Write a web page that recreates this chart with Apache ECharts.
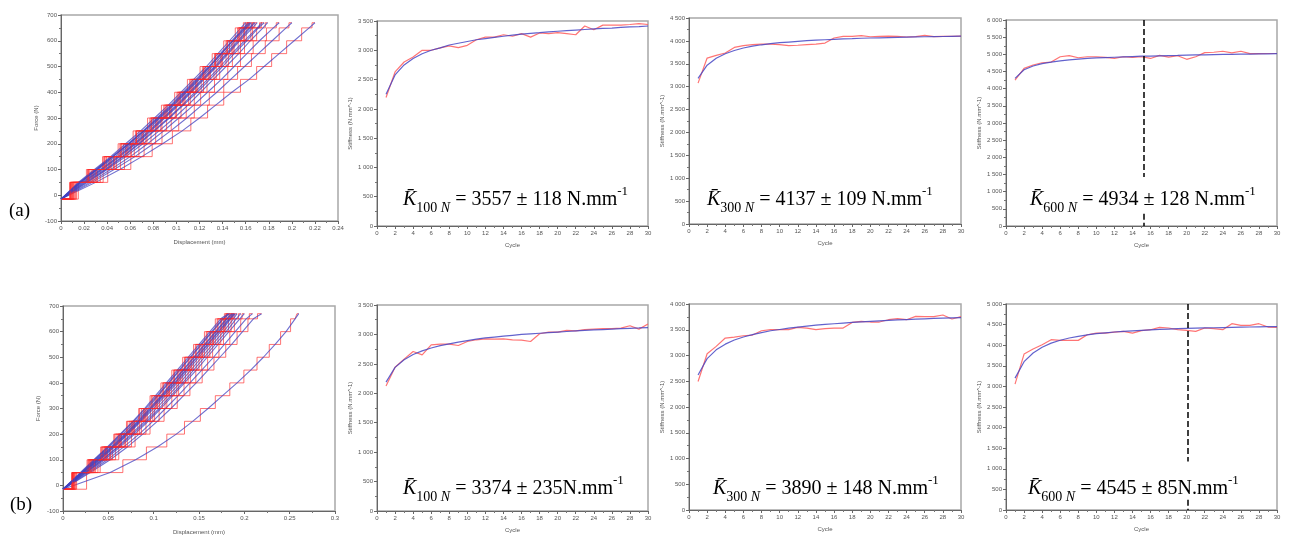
<!DOCTYPE html>
<html>
<head>
<meta charset="utf-8">
<script src="https://cdn.jsdelivr.net/npm/echarts@6/dist/echarts.min.js"></script>
<style>html,body{margin:0;padding:0;background:#fff}#c{width:1290px;height:536px}</style>
</head>
<body>
<div id="c"></div>
<script>
// ---------- DATA ----------
const CYCLE = [1,2,3,4,5,6,7,8,9,10,11,12,13,14,15,16,17,18,19,20,21,22,23,24,25,26,27,28,29,30];

// Force levels (N) at which displacement of each loading cycle was read
const FORCE_LEVELS = [-15,50,100,150,200,250,300,350,400,450,500,550,600,650,670];

// (a) force-displacement cycles: displacement (mm) at FORCE_LEVELS
const A_C1  = [0,0.030,0.051,0.070,0.088,0.105,0.120,0.134,0.148,0.163,0.176,0.189,0.202,0.215,0.220];
const A_C2  = [0,0.027,0.046,0.064,0.080,0.095,0.109,0.122,0.135,0.147,0.159,0.171,0.183,0.195,0.200];
const A_C3  = [0,0.025,0.043,0.060,0.075,0.089,0.102,0.115,0.127,0.139,0.150,0.161,0.172,0.184,0.189];
const A_C4  = [0,0.023,0.040,0.056,0.071,0.085,0.098,0.110,0.121,0.132,0.143,0.154,0.164,0.175,0.179];
const A_C5  = [0,0.021,0.038,0.053,0.067,0.080,0.093,0.105,0.116,0.127,0.138,0.148,0.159,0.170,0.174];
const A_C6  = [0,0.020,0.036,0.051,0.065,0.078,0.090,0.102,0.113,0.124,0.135,0.145,0.155,0.166,0.170];
const A_C7  = [0,0.018,0.034,0.049,0.063,0.076,0.088,0.100,0.111,0.122,0.133,0.143,0.153,0.163,0.167];
const A_C8  = [0,0.017,0.032,0.047,0.061,0.074,0.086,0.098,0.109,0.120,0.131,0.141,0.151,0.161,0.165];
const A_C9  = [0,0.016,0.030,0.044,0.058,0.071,0.083,0.095,0.106,0.117,0.128,0.138,0.148,0.158,0.162];
const A_C10 = [0,0.015,0.029,0.043,0.056,0.069,0.081,0.093,0.104,0.115,0.126,0.136,0.146,0.156,0.160];
const A_C11 = [0,0.019,0.035,0.050,0.064,0.077,0.089,0.101,0.112,0.123,0.134,0.144,0.154,0.164,0.168];
const A_C12 = [0,0.017,0.031,0.045,0.059,0.072,0.085,0.097,0.108,0.119,0.129,0.139,0.149,0.159,0.163];
const A_C13 = [0,0.022,0.039,0.054,0.068,0.081,0.094,0.106,0.118,0.129,0.140,0.150,0.161,0.171,0.176];
const A_C14 = [0,0.016,0.031,0.045,0.059,0.072,0.084,0.096,0.107,0.118,0.129,0.139,0.149,0.160,0.164];

// (b) force-displacement cycles
const B_C1  = [0,0.052,0.080,0.104,0.125,0.143,0.160,0.176,0.192,0.207,0.221,0.234,0.246,0.256,0.260];
const B_C2  = [0,0.030,0.052,0.071,0.088,0.104,0.119,0.133,0.147,0.160,0.173,0.186,0.198,0.210,0.219];
const B_C3  = [0,0.028,0.049,0.067,0.084,0.099,0.113,0.127,0.140,0.153,0.166,0.178,0.190,0.202,0.209];
const B_C4  = [0,0.026,0.046,0.063,0.079,0.094,0.108,0.121,0.134,0.147,0.159,0.171,0.183,0.195,0.200];
const B_C5  = [0,0.024,0.043,0.060,0.075,0.090,0.103,0.116,0.129,0.141,0.153,0.165,0.177,0.188,0.192];
const B_C6  = [0,0.023,0.041,0.057,0.072,0.086,0.100,0.113,0.126,0.138,0.150,0.162,0.174,0.185,0.190];
const B_C7  = [0,0.022,0.039,0.055,0.070,0.084,0.097,0.110,0.123,0.135,0.147,0.159,0.171,0.183,0.188];
const B_C8  = [0,0.021,0.037,0.053,0.068,0.082,0.095,0.108,0.120,0.132,0.144,0.156,0.168,0.180,0.186];
const B_C9  = [0,0.020,0.036,0.051,0.066,0.080,0.093,0.105,0.117,0.129,0.141,0.153,0.165,0.177,0.184];
const B_C10 = [0,0.019,0.034,0.049,0.063,0.077,0.090,0.102,0.114,0.126,0.138,0.150,0.162,0.174,0.182];
const B_C11 = [0,0.022,0.040,0.056,0.071,0.085,0.098,0.111,0.124,0.136,0.148,0.160,0.172,0.184,0.189];
const B_C12 = [0,0.020,0.035,0.050,0.064,0.078,0.091,0.104,0.116,0.128,0.140,0.152,0.164,0.176,0.183];
const B_C13 = [0,0.025,0.044,0.061,0.077,0.092,0.106,0.119,0.132,0.144,0.156,0.168,0.180,0.191,0.196];
const B_C14 = [0,0.021,0.038,0.054,0.069,0.083,0.096,0.109,0.121,0.133,0.145,0.157,0.169,0.181,0.187];

// Stiffness (N/mm) per cycle: measured (red) and fitted (blue)
const A100_MEAS = [2193,2630,2800,2885,3000,3000,3040,3075,3045,3085,3180,3225,3225,3265,3240,3285,3225,3295,3285,3300,3285,3265,3415,3350,3430,3430,3430,3440,3455,3440];
const A100_FIT  = [2250,2580,2750,2860,2940,3000,3040,3090,3120,3150,3180,3200,3220,3240,3260,3275,3290,3300,3315,3325,3335,3345,3355,3365,3375,3380,3390,3400,3405,3415];
const A300_MEAS = [3078,3625,3683,3735,3858,3895,3917,3931,3931,3917,3895,3905,3920,3930,3953,4063,4099,4100,4114,4090,4100,4105,4100,4085,4095,4120,4095,4100,4100,4105];
const A300_FIT  = [3180,3470,3620,3720,3790,3845,3885,3915,3940,3960,3975,3990,4005,4015,4025,4035,4045,4050,4058,4063,4068,4073,4078,4082,4086,4090,4093,4096,4099,4102];
const A600_MEAS = [4250,4590,4690,4755,4775,4930,4960,4900,4930,4930,4910,4880,4930,4910,4930,4880,4970,4920,4960,4855,4930,5050,5060,5090,5040,5090,5020,5020,5025,5025];
const A600_FIT  = [4300,4550,4660,4730,4775,4810,4840,4860,4880,4895,4905,4915,4925,4935,4945,4950,4958,4965,4970,4977,4982,4987,4992,4996,5000,5004,5008,5012,5015,5018];
const B100_MEAS = [2125,2443,2580,2710,2653,2824,2835,2835,2812,2880,2909,2926,2920,2926,2909,2903,2880,3011,3040,3040,3068,3062,3080,3090,3097,3097,3108,3148,3090,3176];
const B100_FIT  = [2190,2440,2570,2660,2720,2770,2810,2840,2870,2895,2920,2940,2955,2970,2985,3000,3010,3020,3030,3040,3050,3060,3068,3076,3083,3090,3097,3104,3110,3117];
const B300_MEAS = [2496,3034,3177,3339,3358,3384,3397,3481,3501,3501,3501,3546,3533,3501,3520,3533,3533,3643,3663,3650,3650,3695,3715,3695,3760,3754,3754,3786,3708,3754];
const B300_FIT  = [2620,2940,3110,3220,3300,3360,3405,3445,3480,3505,3530,3550,3570,3588,3603,3617,3630,3642,3653,3663,3672,3681,3690,3698,3705,3712,3719,3725,3731,3737];
const B600_MEAS = [3055,3784,3906,4011,4133,4117,4117,4117,4254,4295,4295,4319,4335,4295,4352,4376,4433,4417,4376,4360,4335,4417,4400,4376,4522,4481,4481,4522,4441,4433];
const B600_FIT  = [3200,3600,3810,3950,4050,4120,4175,4215,4250,4280,4300,4320,4337,4350,4362,4373,4383,4392,4400,4407,4413,4419,4424,4429,4434,4438,4442,4446,4449,4452];

// Y-axis maxima of the stiffness panels
const STIFF_MAX = [3500, 4500, 6000, 3500, 4000, 5000];

// Mean stiffness annotations
const K_LOAD = ['100', '300', '600', '100', '300', '600'];
const K_TEXT = ['3557 \u00b1 118 N.mm', '4137 \u00b1 109 N.mm', '4934 \u00b1 128 N.mm',
                '3374 \u00b1 235N.mm', '3890 \u00b1 148 N.mm', '4545 \u00b1 85N.mm'];

// Dashed marker cycles (panels a-600 N and b-600 N), with segment ends (N/mm)
const MARK_A600 = 15.25;
const MARK_B600 = 20.1;
const MARK_A600_SEG = [[6000, 1430], [360, 0]];
const MARK_B600_SEG = [[5000, 1175], [250, 0]];

// ---------- CHART ----------
const chart = echarts.init(document.getElementById('c'), null, {renderer: 'canvas'});

const grids = [
  {left: 61,   top: 15,  width: 277, height: 206},
  {left: 377,  top: 21,  width: 271, height: 205},
  {left: 689,  top: 18,  width: 272, height: 206},
  {left: 1006, top: 20,  width: 271, height: 206},
  {left: 63,   top: 306, width: 272, height: 205},
  {left: 377,  top: 305, width: 271, height: 206},
  {left: 689,  top: 304, width: 272, height: 206},
  {left: 1006, top: 304, width: 271, height: 206}
].map(g => Object.assign({show: true, borderColor: '#a8a8a8', borderWidth: 1.5, backgroundColor: '#fff'}, g));

const AX_FONT = 'Liberation Sans';
function baseAxis(extra) {
  return Object.assign({
    type: 'value',
    axisLine: {show: true, onZero: false, lineStyle: {color: '#666', width: 1}},
    axisTick: {show: true, inside: false, length: 3, lineStyle: {color: '#666'}},
    minorTick: {show: true, splitNumber: 2, length: 2, lineStyle: {color: '#777'}},
    splitLine: {show: false},
    axisLabel: {fontSize: 6, color: '#555', margin: 4, fontFamily: AX_FONT, hideOverlap: false},
    nameLocation: 'middle',
    nameTextStyle: {fontSize: 6, color: '#555', fontFamily: AX_FONT}
  }, extra);
}
const thousands = v => v >= 1000 ? Math.floor(v / 1000) + ' ' + String(v % 1000).padStart(3, '0') : String(v);
const dec = v => String(+v.toFixed(3));

const xAxes = [], yAxes = [];
// panel order: 0 A-FD, 1 A100, 2 A300, 3 A600, 4 B-FD, 5 B100, 6 B300, 7 B600
const stiffPanels = [1, 2, 3, 5, 6, 7];
for (let i = 0; i < 8; i++) {
  if (i === 0 || i === 4) {
    const isA = i === 0;
    xAxes.push(baseAxis({gridIndex: i, min: 0, max: isA ? 0.24 : 0.3, interval: isA ? 0.02 : 0.05,
      name: 'Displacement (mm)', nameGap: 18, axisLabel: Object.assign({}, baseAxis().axisLabel, {formatter: dec})}));
    yAxes.push(baseAxis({gridIndex: i, min: -100, max: 700, interval: 100, name: 'Force (N)', nameGap: 22}));
  } else {
    const k = stiffPanels.indexOf(i);
    xAxes.push(baseAxis({gridIndex: i, min: 0, max: 30, interval: 2, name: 'Cycle', nameGap: 16}));
    yAxes.push(baseAxis({gridIndex: i, min: 0, max: STIFF_MAX[k], interval: 500,
      name: 'Stiffness (N.mm^-1)', nameGap: 24,
      axisLabel: Object.assign({}, baseAxis().axisLabel, {formatter: thousands})}));
  }
}

const series = [];
const RED = '#ff2a2a', BLUE = '#4040c0';
function addFD(idx, cycles) {
  cycles.forEach(d => {
    const pts = d.map((x, j) => [x, FORCE_LEVELS[j]]);
    series.push({type: 'line', xAxisIndex: idx, yAxisIndex: idx, data: pts, step: 'middle',
      showSymbol: false, silent: true, lineStyle: {color: RED, width: 1, opacity: 0.65}});
    series.push({type: 'line', xAxisIndex: idx, yAxisIndex: idx, data: pts,
      showSymbol: false, silent: true, lineStyle: {color: BLUE, width: 1.1, opacity: 0.75}});
  });
}
addFD(0, [A_C1, A_C2, A_C3, A_C4, A_C5, A_C6, A_C7, A_C8, A_C9, A_C10, A_C11, A_C12, A_C13, A_C14]);
addFD(4, [B_C1, B_C2, B_C3, B_C4, B_C5, B_C6, B_C7, B_C8, B_C9, B_C10, B_C11, B_C12, B_C13, B_C14]);

const stiffData = [[A100_MEAS, A100_FIT], [A300_MEAS, A300_FIT], [A600_MEAS, A600_FIT],
                   [B100_MEAS, B100_FIT], [B300_MEAS, B300_FIT], [B600_MEAS, B600_FIT]];
stiffPanels.forEach((idx, k) => {
  const [meas, fit] = stiffData[k];
  series.push({type: 'line', xAxisIndex: idx, yAxisIndex: idx, data: CYCLE.map((c, j) => [c, meas[j]]),
    showSymbol: false, silent: true, lineStyle: {color: '#ff5c5c', width: 1.2, opacity: 0.85}});
  const s = {type: 'line', xAxisIndex: idx, yAxisIndex: idx, data: CYCLE.map((c, j) => [c, fit[j]]),
    showSymbol: false, silent: true, lineStyle: {color: '#4747c4', width: 1.2, opacity: 0.85}};
  let mark = null, segs = null;
  if (idx === 3) { mark = MARK_A600; segs = MARK_A600_SEG; }
  if (idx === 7) { mark = MARK_B600; segs = MARK_B600_SEG; }
  if (mark !== null) {
    s.markLine = {silent: true, symbol: 'none', label: {show: false},
      lineStyle: {color: '#000', type: [6, 3], width: 1.5, opacity: 1},
      data: segs.map(sg => [{coord: [mark, sg[0]]}, {coord: [mark, sg[1]]}])};
  }
  series.push(s);
});

const SERIF = 'Liberation Serif';
const rich = {
  k:  {fontFamily: SERIF, fontStyle: 'italic', fontWeight: 'normal', fontSize: 20, color: '#000', lineHeight: 30, verticalAlign: 'middle'},
  s:  {fontFamily: SERIF, fontWeight: 'normal', fontSize: 14, color: '#000', lineHeight: 14, verticalAlign: 'bottom'},
  si: {fontFamily: SERIF, fontStyle: 'italic', fontWeight: 'normal', fontSize: 14, color: '#000', lineHeight: 14, verticalAlign: 'bottom'},
  m:  {fontFamily: SERIF, fontWeight: 'normal', fontSize: 20, color: '#000', lineHeight: 30, verticalAlign: 'middle'},
  p:  {fontFamily: SERIF, fontWeight: 'normal', fontSize: 13, color: '#000', lineHeight: 13, verticalAlign: 'top'}
};
const titlePos = [[403, 185], [707, 185], [1030, 185], [403, 474], [713, 474], [1028, 474]];
const titles = K_TEXT.map((t, k) => ({
  left: titlePos[k][0], top: titlePos[k][1], padding: 0,
  text: '{k|K\u0304}{s|' + K_LOAD[k] + ' }{si|N}{m| = ' + t + '}{p|-1}',
  textStyle: {fontWeight: 'normal', rich: rich}
}));

chart.setOption({
  animation: false,
  backgroundColor: '#fff',
  title: titles,
  grid: grids,
  xAxis: xAxes,
  yAxis: yAxes,
  series: series,
  graphic: [
    {type: 'text', left: 9, top: 202, style: {text: '(a)', font: '19px "Liberation Serif"', fill: '#000'}},
    {type: 'text', left: 10, top: 496, style: {text: '(b)', font: '19px "Liberation Serif"', fill: '#000'}}
  ]
});
</script>
</body>
</html>
